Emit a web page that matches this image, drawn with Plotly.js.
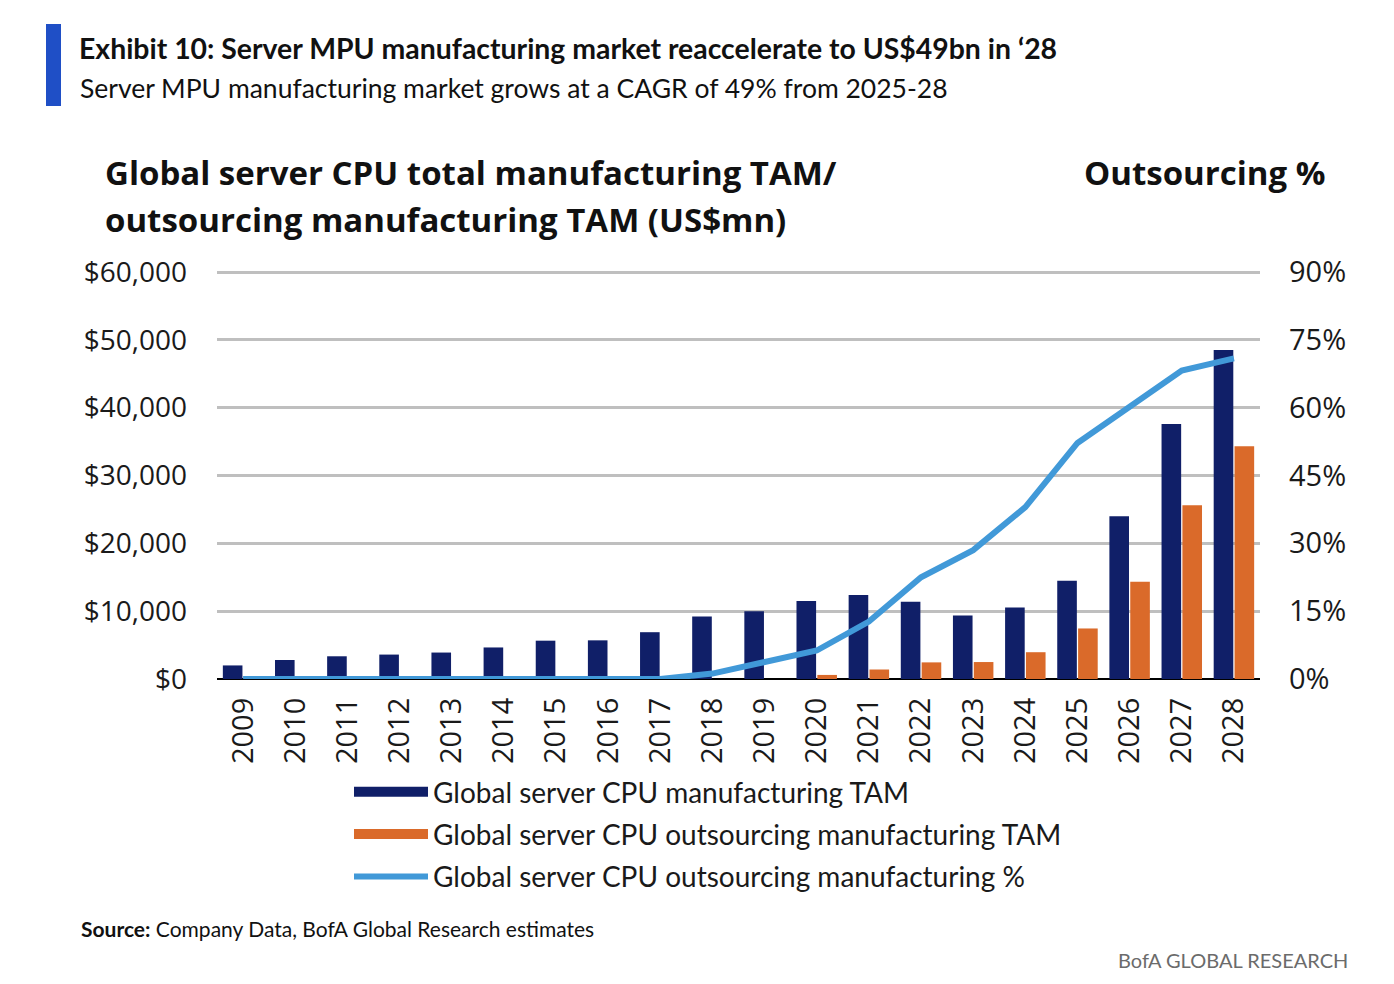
<!DOCTYPE html>
<html>
<head>
<meta charset="utf-8">
<script src="https://cdn.plot.ly/plotly-3.0.1.min.js"></script>
<style>
  html, body { margin: 0; padding: 0; background: #ffffff; }
  #chart { width: 1394px; height: 984px; }
</style>
</head>
<body>
<div id="chart"></div>
<script>
// ---- Data ----
const years = ['2009','2010','2011','2012','2013','2014','2015','2016','2017','2018',
               '2019','2020','2021','2022','2023','2024','2025','2026','2027','2028'];

// Global server CPU manufacturing TAM (US$mn)
const totalTAM = [2000, 2800, 3350, 3600, 3900, 4650, 5650, 5700, 6900, 9200,
                  10000, 11500, 12400, 11400, 9350, 10550, 14500, 24000, 37600, 48500];

// Global server CPU outsourcing manufacturing TAM (US$mn)
const outsourcingTAM = [null, null, null, null, null, null, null, null, null, null,
                        null, 600, 1400, 2450, 2500, 3950, 7450, 14350, 25600, 34300];

// Global server CPU outsourcing manufacturing % (right axis)
const outsourcingPct = [0, 0, 0, 0, 0, 0, 0, 0, 0, 0.012,
                        0.037, 0.063, 0.127, 0.225, 0.285, 0.38, 0.522, 0.60, 0.682, 0.709];

const seriesNames = ['Global server CPU manufacturing TAM',
                     'Global server CPU outsourcing manufacturing TAM',
                     'Global server CPU outsourcing manufacturing %'];

const titleText = 'Exhibit 10: Server MPU manufacturing market reaccelerate to US$49bn in \u201828';
const subtitleText = 'Server MPU manufacturing market grows at a CAGR of 49% from 2025-28';
const leftTitle1 = 'Global server CPU total manufacturing TAM/';
const leftTitle2 = 'outsourcing manufacturing TAM (US$mn)';
const rightTitle = 'Outsourcing %';
const sourceText = '<b>Source:</b> Company Data, BofA Global Research estimates';
const brandText = 'BofA GLOBAL RESEARCH';

// ---- Styling ----
const NARROW = 'Lato, "Open Sans", sans-serif';
const TICKF = '"Open Sans", "Noto Sans", sans-serif';
const BOLD = '"Open Sans", "Noto Sans", sans-serif';
const NAVY = '#101f68';
const ORANGE = '#da6a2a';
const LIGHTBLUE = '#4199d8';

// plot area in pixels: x 217..1260, $60,000 grid at y 272, $0 at y 679
const L = 217, R = 1260, T = 271, B = 679;
const YMAX = 60150;                 // small headroom so the $60,000 gridline is drawn
const px = x => (x - L) / (R - L);
const py = y => (B - y) / (B - T);

const traces = [
  {
    type: 'bar', name: seriesNames[0], x: years, y: totalTAM,
    marker: { color: NAVY }, yaxis: 'y', showlegend: false, legendgroup: 'g1'
  },
  {
    type: 'bar', name: seriesNames[1], x: years, y: outsourcingTAM,
    marker: { color: ORANGE }, yaxis: 'y', showlegend: false, legendgroup: 'g2'
  },
  // legend swatches for the two bar series (wide rectangles, as in the reference)
  {
    type: 'scatter', mode: 'lines', name: seriesNames[0], x: [null], y: [null],
    line: { color: NAVY, width: 14 }, yaxis: 'y', legendgroup: 'g1', hoverinfo: 'skip'
  },
  {
    type: 'scatter', mode: 'lines', name: seriesNames[1], x: [null], y: [null],
    line: { color: ORANGE, width: 14 }, yaxis: 'y', legendgroup: 'g2', hoverinfo: 'skip'
  },
  {
    type: 'scatter', mode: 'lines', name: seriesNames[2], x: years, y: outsourcingPct,
    line: { color: LIGHTBLUE, width: 6 }, yaxis: 'y2', legendgroup: 'g3'
  }
];

const layout = {
  width: 1394, height: 984,
  paper_bgcolor: '#ffffff', plot_bgcolor: '#ffffff',
  margin: { l: L, r: 1394 - R, t: T, b: 984 - B },
  font: { family: NARROW, color: '#1a1a1a', size: 28 },
  barmode: 'group', bargap: 0.2, bargroupgap: 0.06,
  title: {
    text: '<b>' + titleText + '</b>',
    x: 79 / 1394, xanchor: 'left', xref: 'container',
    y: 1 - 49 / 984, yanchor: 'middle', yref: 'container',
    font: { family: NARROW, size: 28.4, color: '#111111' }
  },
  xaxis: {
    type: 'category', categoryarray: years, tickangle: -90, showgrid: false, showline: false,
    ticks: '', tickfont: { size: 29, family: TICKF, color: '#1a1a1a' },
    ticklabelstandoff: 12, fixedrange: true
  },
  yaxis: {
    range: [0, YMAX], dtick: 10000, tick0: 0, tickprefix: '$', tickformat: ',d',
    showgrid: true, gridcolor: '#bfbfbf', gridwidth: 3,
    zeroline: true, zerolinecolor: '#000000', zerolinewidth: 2.5,
    showline: false, ticks: '', ticklabelstandoff: 29,
    tickfont: { size: 28, family: TICKF, color: '#1a1a1a' }, fixedrange: true
  },
  yaxis2: {
    overlaying: 'y', side: 'right', range: [0, 0.9 * YMAX / 60000], dtick: 0.15, tick0: 0,
    tickformat: '.0%', showgrid: false, zeroline: false, showline: false,
    ticks: '', ticklabelstandoff: 28,
    tickfont: { size: 29, family: TICKF, color: '#1a1a1a' }, fixedrange: true
  },
  legend: {
    orientation: 'v', x: px(349), xanchor: 'left', y: py(767), yanchor: 'top',
    font: { size: 28, family: NARROW, color: '#1a1a1a' },
    itemwidth: 74, tracegroupgap: 3, bgcolor: 'rgba(0,0,0,0)', traceorder: 'grouped'
  },
  shapes: [
    { type: 'rect', xref: 'paper', yref: 'paper', x0: px(46), x1: px(61), y0: py(106), y1: py(24),
      fillcolor: '#1f4fc6', line: { width: 0 } }
  ],
  annotations: [
    { text: subtitleText, xref: 'paper', yref: 'paper', x: px(78), y: py(88),
      xanchor: 'left', yanchor: 'middle', showarrow: false,
      font: { family: NARROW, size: 26.5, color: '#111111' } },
    { text: '<b>' + leftTitle1 + '</b>', xref: 'paper', yref: 'paper', x: px(103), y: py(172),
      xanchor: 'left', yanchor: 'middle', showarrow: false,
      font: { family: BOLD, size: 33, color: '#111111' } },
    { text: '<b>' + leftTitle2 + '</b>', xref: 'paper', yref: 'paper', x: px(103), y: py(219),
      xanchor: 'left', yanchor: 'middle', showarrow: false,
      font: { family: BOLD, size: 33, color: '#111111' } },
    { text: '<b>' + rightTitle + '</b>', xref: 'paper', yref: 'paper', x: px(1327), y: py(172),
      xanchor: 'right', yanchor: 'middle', showarrow: false,
      font: { family: BOLD, size: 33, color: '#111111' } },
    { text: sourceText, xref: 'paper', yref: 'paper', x: px(79), y: py(928),
      xanchor: 'left', yanchor: 'middle', showarrow: false,
      font: { family: NARROW, size: 21, color: '#111111' } },
    { text: brandText, xref: 'paper', yref: 'paper', x: px(1350), y: py(960),
      xanchor: 'right', yanchor: 'middle', showarrow: false,
      font: { family: NARROW, size: 20, color: '#6b6b6b' } }
  ]
};

Plotly.newPlot('chart', traces, layout, { displayModeBar: false, staticPlot: true });
</script>
</body>
</html>
